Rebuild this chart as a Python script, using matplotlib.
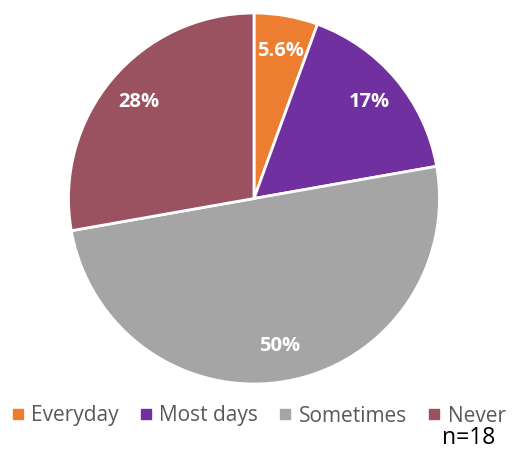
import matplotlib.pyplot as plt
from matplotlib.lines import Line2D

plt.rcParams['font.family'] = ['Open Sans', 'DejaVu Sans']

categories = ["Everyday", "Most days", "Sometimes", "Never"]
counts = [1, 3, 9, 5]
colors = ["#ED7D31", "#7030A0", "#A5A5A5", "#9A5160"]
n_total = sum(counts)

fig = plt.figure(figsize=(5.13, 4.53), dpi=100)
ax = fig.add_axes([68 / 513, 69 / 453, 372 / 513, 371 / 453])

wedges, texts, autotexts = ax.pie(
    counts, colors=colors, startangle=90, counterclock=False,
    autopct=lambda p: "{:.2g}%".format(p), pctdistance=0.81,
    wedgeprops=dict(edgecolor="white", linewidth=2),
    textprops=dict(color="white", fontsize=14.5, fontweight="bold"))
ax.set_xlim(-1.0, 1.0)
ax.set_ylim(-1.0, 1.0)
ax.set_aspect("equal")

handles = [Line2D([], [], marker="s", linestyle="none", markersize=6.5,
                  markerfacecolor=c, markeredgecolor=c) for c in colors]
fig.legend(handles, categories, loc="center", bbox_to_anchor=(0.505, 1 - 416 / 453),
           ncol=4, frameon=False, fontsize=15, labelcolor="#595959",
           handlelength=0.5, handletextpad=0.4, columnspacing=1.05,
           borderpad=0, borderaxespad=0)
fig.text(469 / 513, 1 - 438 / 453, "n={}".format(n_total), fontsize=16.5,
         ha="center", va="center", color="black")

fig.savefig("out.png", dpi=100)
